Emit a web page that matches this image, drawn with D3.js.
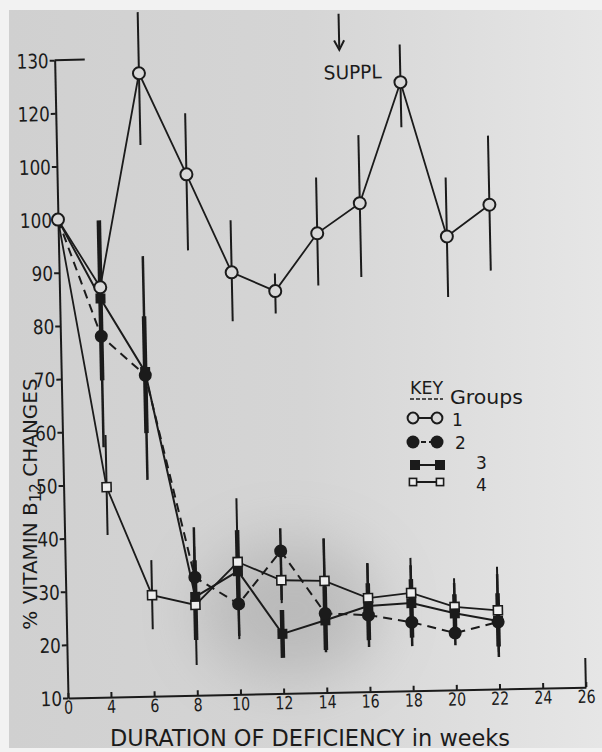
<!DOCTYPE html>
<html><head><meta charset="utf-8">
<script src="https://cdn.jsdelivr.net/npm/d3@7/dist/d3.min.js"></script>
<style>body{margin:0;background:#f2f2f2} svg{display:block}</style>
</head><body><svg id="c" width="602" height="752"></svg>
<script>
// ---- data ----
const xTickValues = [0,4,6,8,10,12,14,16,18,20,22,24,26];
const xTickLabels = ["0","4","6","8","10","12","14","16","18","20","22","24","26"];
const yTickValues = [10,20,30,40,50,60,70,80,90,100,110,120,130];
const yTickLabels = ["10","20","30","40","50","60","70","80","90","100","100","120","130"];

const weeks   = [0, 3.8, 5.9, 8, 10, 12, 14, 16, 18, 20, 22];
const weeksG4 = [0, 4.0, 6.0, 8, 10, 12, 14, 16, 18, 20, 22];

const group1   = [100, 87.1, 127.2, 108, 89.4, 85.7, 96.4, 101.9, 124.5, 95.3, 101.1];
const group1Hi = [null, null, 138.7, 119.5, 99.2, 89, 106.9, 114.7, 131.6, 106.4, 114.1];
const group1Lo = [null, null, 113.7, 93.7, 80.2, 81.5, 86.6, 88, 116, 83.9, 88.7];

const group2   = [100, 77.9, 70.4, 32.2, 27, 36.8, 24.9, 24.4, 22.9, 20.7, 22.6];
const group2Hi = [null, 99, 92.8, 41.6, 33, 41.1, 39, 34.2, 33.6, 30.1, 31.6];
const group2Lo = [null, 57, 50.7, 23.2, 21, 27.6, 17.6, 18.4, 18.4, 18.4, 16];

const group3   = [100, 85, 71, 28.5, 33.2, 21.2, 23.6, 26.1, 26.5, 24.4, 22.8];
const group3Hi = [null, 99.7, 81.5, 35.4, 40.9, 25.7, 30, 30.4, 31, 28, 28];
const group3Lo = [null, 69.6, 59.5, 20.4, 26.8, 16.7, 18, 19.7, 20, 21, 18];

const group4   = [100, 49.5, 29, 27, 34.9, 31.3, 31, 27.6, 28.4, 25.6, 24.8];
const group4Hi = [null, 59.3, 35.6, 38, 46.9, 37, 39, 34, 35, 31, 33];
const group4Lo = [null, 40.5, 22.6, 15.7, 20.4, 27, 22, 19, 20, 20, 17];

const groupNames = ["1","2","3","4"];
const supplWeek = 15.2;

// ---- drawing ----
const INK = "#1b1b1b", PAPER = "#d9d9d9";
const FONT = "'DejaVu Sans',sans-serif";
const svg = d3.select("#c");
const defs = svg.append("defs");
const grad = defs.append("linearGradient").attr("id","pg").attr("x1","0").attr("x2","1").attr("y1","0").attr("y2","0");
grad.append("stop").attr("offset","0").attr("stop-color","#d0d0d0");
grad.append("stop").attr("offset","0.5").attr("stop-color","#d5d5d5");
grad.append("stop").attr("offset","1").attr("stop-color","#e6e6e6");
defs.append("filter").attr("id","blur").attr("x","-50%").attr("y","-50%").attr("width","200%").attr("height","200%")
  .append("feGaussianBlur").attr("stdDeviation",30);

svg.append("rect").attr("x",9).attr("y",10).attr("width",593).attr("height",738).attr("fill","url(#pg)");
svg.append("ellipse").attr("cx",290).attr("cy",610).attr("rx",90).attr("ry",70)
  .attr("fill","#8a8a8a").attr("opacity",0.35).attr("filter","url(#blur)");

const g = svg.append("g").attr("transform","translate(68,698) rotate(-1.2)");
const x = d3.scaleLinear().domain([0,4,26]).range([0,43,518]);
const y = d3.scaleLinear().domain([10,130]).range([0,-638]);

// axes
const xAxis = d3.axisBottom(x).tickValues(xTickValues).tickFormat((d,i)=>xTickLabels[i])
  .tickSizeInner(-5).tickSizeOuter(0).tickPadding(3);
const yAxis = d3.axisLeft(y).tickValues(yTickValues).tickFormat((d,i)=>yTickLabels[i])
  .tickSizeInner(5).tickSizeOuter(0).tickPadding(1);
const gx = g.append("g").call(xAxis);
const gy = g.append("g").call(yAxis);
[gx,gy].forEach(a=>{
  a.attr("font-family",FONT).attr("font-size",20);
  a.selectAll("path,line").attr("stroke",INK).attr("stroke-width",2);
  a.selectAll("text").attr("fill",INK).attr("lengthAdjust","spacingAndGlyphs");
});
gx.selectAll("text").attr("font-size",18).attr("textLength",function(){ return this.textContent.length*9; });
gy.selectAll("text").attr("dy","0.36em").attr("textLength",function(){ return this.textContent.length*10.7; });
// frame extras: top horizontal stub and right end mark
g.append("line").attr("x1",x(0)).attr("x2",x(2.8)).attr("y1",y(130)).attr("y2",y(130)).attr("stroke",INK).attr("stroke-width",2);
g.append("line").attr("x1",x(26)).attr("x2",x(26)).attr("y1",y(10)).attr("y2",y(15.5)).attr("stroke",INK).attr("stroke-width",2);

const series = [
  {name:"1", w:weeks,   v:group1, hi:group1Hi, lo:group1Lo, dash:null, lw:1.8, ew:2,   marker:"openCircle"},
  {name:"4", w:weeksG4, v:group4, hi:group4Hi, lo:group4Lo, dash:null, lw:1.8, ew:2,   marker:"openSquare"},
  {name:"3", w:weeks,   v:group3, hi:group3Hi, lo:group3Lo, dash:null, lw:2,   ew:4.5, marker:"filledSquare"},
  {name:"2", w:weeks,   v:group2, hi:group2Hi, lo:group2Lo, dash:"9,6", lw:2, ew:2.5, marker:"filledCircle"}
];

// error bars
series.forEach(s=>{
  s.w.forEach((wk,i)=>{
    if (s.hi[i]==null) return;
    g.append("line").attr("x1",x(wk)).attr("x2",x(wk)).attr("y1",y(s.lo[i])).attr("y2",y(s.hi[i]))
      .attr("stroke",INK).attr("stroke-width",s.ew);
  });
});
// lines
const line = d3.line().x(d=>x(d[0])).y(d=>y(d[1]));
series.forEach(s=>{
  const pts = s.w.map((wk,i)=>[wk,s.v[i]]);
  g.append("path").attr("d",line(pts)).attr("fill","none").attr("stroke",INK)
    .attr("stroke-width",s.lw).attr("stroke-dasharray",s.dash);
});
// markers
function drawMarker(sel, type, cx, cy, scale){
  scale = scale||1;
  if (type==="openCircle") sel.append("circle").attr("cx",cx).attr("cy",cy).attr("r",6*scale).attr("fill",PAPER).attr("stroke",INK).attr("stroke-width",2);
  if (type==="filledCircle") sel.append("circle").attr("cx",cx).attr("cy",cy).attr("r",6.5*scale).attr("fill",INK);
  if (type==="filledSquare") sel.append("rect").attr("x",cx-5*scale).attr("y",cy-5*scale).attr("width",10*scale).attr("height",10*scale).attr("fill",INK);
  if (type==="openSquare") sel.append("rect").attr("x",cx-4.5*scale).attr("y",cy-4.5*scale).attr("width",9*scale).attr("height",9*scale).attr("fill","#eeeeee").attr("stroke",INK).attr("stroke-width",1.6);
}
series.forEach(s=>{
  s.w.forEach((wk,i)=>{ if(i===0 && s.name!=="1") return; drawMarker(g, s.marker, x(wk), y(s.v[i])); });
});

// SUPPL annotation
g.append("line").attr("x1",x(supplWeek)).attr("x2",x(supplWeek)).attr("y1",y(137.6)).attr("y2",y(131.2))
  .attr("stroke",INK).attr("stroke-width",2);
g.append("path").attr("d",`M${x(supplWeek)-5},${y(132.6)} L${x(supplWeek)},${y(130.8)} L${x(supplWeek)+5},${y(132.6)}`)
  .attr("fill","none").attr("stroke",INK).attr("stroke-width",2);
g.append("text").attr("x",x(15.8)).attr("y",y(125.3)).attr("text-anchor","middle")
  .attr("font-family",FONT).attr("font-size",19).attr("fill",INK)
  .attr("textLength",58).attr("lengthAdjust","spacingAndGlyphs").text("SUPPL");

// axis titles
svg.append("text").attr("x",310).attr("y",746).attr("text-anchor","middle")
  .attr("font-family",FONT).attr("font-size",23).attr("fill",INK)
  .attr("textLength",400).attr("lengthAdjust","spacingAndGlyphs")
  .text("DURATION OF DEFICIENCY in weeks");
const yt = svg.append("text").attr("transform","translate(37,504) rotate(-90)").attr("text-anchor","middle")
  .attr("font-family",FONT).attr("font-size",20).attr("fill",INK);
yt.append("tspan").text("% VITAMIN B");
yt.append("tspan").attr("font-size",15).attr("dy",4).text("12");
yt.append("tspan").attr("dy",-4).text(" CHANGES");

// legend (key)
const lg = svg.append("g").attr("font-family",FONT).attr("fill",INK);
lg.append("text").attr("x",410).attr("y",394).attr("font-size",18).attr("fill",INK)
  .attr("textLength",33).attr("lengthAdjust","spacingAndGlyphs").text("KEY");
lg.append("line").attr("x1",410).attr("x2",443).attr("y1",399).attr("y2",399).attr("stroke",INK).attr("stroke-width",1.5).attr("stroke-dasharray","4,2");
lg.append("text").attr("x",450).attr("y",404).attr("font-size",19).attr("fill",INK)
  .attr("textLength",73).attr("lengthAdjust","spacingAndGlyphs").text("Groups");
const legendRows = [
  {name:groupNames[0], marker:"openCircle",   y:418, x1:413, x2:437, tx:452, ty:426, dash:null},
  {name:groupNames[1], marker:"filledCircle", y:442, x1:413, x2:437, tx:455, ty:449, dash:"5,3"},
  {name:groupNames[2], marker:"filledSquare", y:465, x1:415, x2:440, tx:476, ty:469, dash:null},
  {name:groupNames[3], marker:"openSquare",   y:482, x1:413, x2:440, tx:476, ty:491, dash:null}
];
legendRows.forEach(r=>{
  lg.append("line").attr("x1",r.x1).attr("x2",r.x2).attr("y1",r.y).attr("y2",r.y).attr("stroke",INK).attr("stroke-width",2).attr("stroke-dasharray",r.dash);
  const sc = r.marker==="openSquare"?0.8:(r.marker==="openCircle"?0.9:1);
  drawMarker(lg, r.marker, r.x1, r.y, sc);
  drawMarker(lg, r.marker, r.x2, r.y, sc);
  lg.append("text").attr("x",r.tx).attr("y",r.ty).attr("font-size",17).attr("fill",INK).text(r.name);
});
</script></body></html>
